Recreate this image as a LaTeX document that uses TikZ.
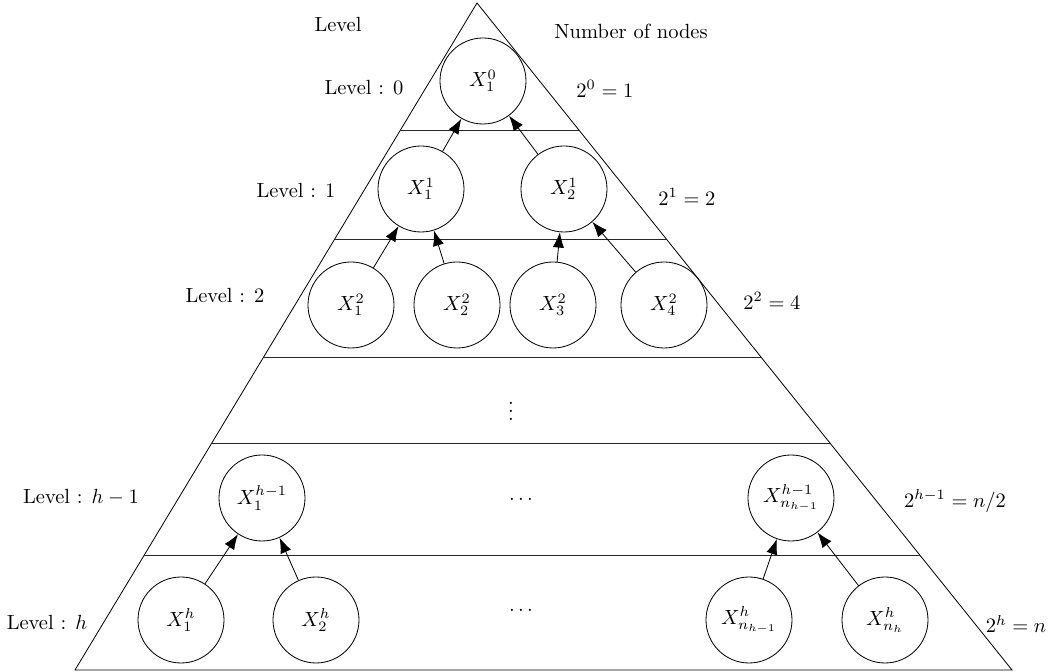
\documentclass[tikz,border=0pt]{standalone}
\usetikzlibrary{arrows.meta,calc}
\begin{document}
\begin{tikzpicture}[x=0.01715cm,y=-0.01715cm,
  tnode/.style={draw,circle,inner sep=0pt,minimum size=1.475cm,line width=0.4pt},
  lab/.style={inner sep=0pt},
  edge/.style={-{Latex[length=7.5pt,width=5.5pt]},line width=0.4pt},
  sep/.style={line width=0.45pt,black!85}]
\useasboundingbox (0,0) rectangle (1054,672);
% triangle
\coordinate (A) at (477,3);
\coordinate (B) at (75,670);
\coordinate (C) at (1012,670);
\draw[line width=0.4pt] (A) -- (B) -- (C) -- cycle;
% separators
\foreach \t in {0.1904,0.3538,0.5307,0.6597,0.8276}{
  \draw[sep] ($(A)!\t!(B)$) -- ($(A)!\t!(C)$);
}
% headers
\node[lab] (hl) at (338,25) {Level};
\node[lab] (hn) at (631,31) {Number of nodes};
% level labels
\node[lab] (l0) at (364,88) {Level $:\,0$};
\node[lab] (l1) at (296,191) {Level $:\,1$};
\node[lab] (l2) at (225,296) {Level $:\,2$};
\node[lab] (lh1) at (81,497) {Level $:\,h-1$};
\node[lab] (lh) at (47,623) {Level $:\,h$};
% counts
\node[lab] (c0) at (605,89) {$2^0=1$};
\node[lab] (c1) at (687,197) {$2^1=2$};
\node[lab] (c2) at (772,301) {$2^2=4$};
\node[lab] (ch1) at (955,501) {$2^{h-1}=n/2$};
\node[lab] (ch) at (1016,624) {$2^h=n$};
% tree nodes
\node[tnode] (x10) at (483,81) {$X_1^0$};
\node[tnode] (x11) at (421,189) {$X_1^1$};
\node[tnode] (x21) at (564,189) {$X_2^1$};
\node[tnode] (x12) at (351,305) {$X_1^2$};
\node[tnode] (x22) at (457,305) {$X_2^2$};
\node[tnode] (x32) at (553,305) {$X_3^2$};
\node[tnode] (x42) at (664,305) {$X_4^2$};
\node[tnode] (x1h1) at (262,498) {$X_1^{h-1}$};
\node[tnode] (xnh1) at (791,498) {$X_{n_{h-1}}^{h-1}$};
\node[tnode] (x1h) at (181,620) {$X_1^h$};
\node[tnode] (x2h) at (316,620) {$X_2^h$};
\node[tnode] (xn1h) at (749,620) {$X_{n_{h-1}}^h$};
\node[tnode] (xnh) at (885,620) {$X_{n_h}^h$};
% dots
\node[lab] (vd) at (511,405) {$\vdots$};
\node[lab] (d1) at (521,500) {$\cdots$};
\node[lab] (d2) at (521,611) {$\cdots$};
% edges
\draw[edge] (x11) -- (x10);
\draw[edge] (x21) -- (x10);
\draw[edge] (x12) -- (x11);
\draw[edge] (x22) -- (x11);
\draw[edge] (x32) -- (x21);
\draw[edge] (x42) -- (x21);
\draw[edge] (x1h) -- (x1h1);
\draw[edge] (x2h) -- (x1h1);
\draw[edge] (xn1h) -- (xnh1);
\draw[edge] (xnh) -- (xnh1);
\end{tikzpicture}
\end{document}
